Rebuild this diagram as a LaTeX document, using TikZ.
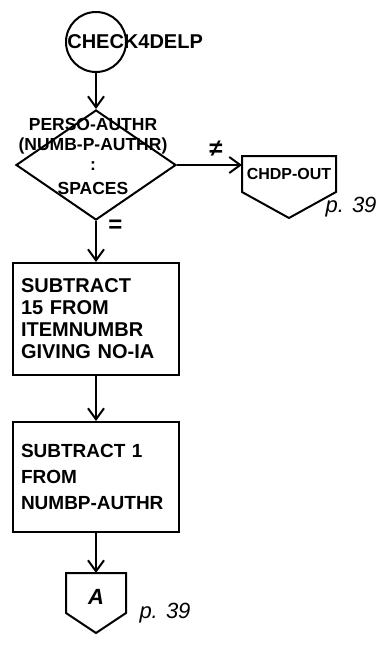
\documentclass[tikz,border=0pt]{standalone}
\usepackage{fontspec}
\setmainfont{Liberation Sans}
\usetikzlibrary{positioning, arrows.meta, shapes.geometric}

\begin{document}
\begin{tikzpicture}[
  x=1pt, y=-1pt,
  line width=2pt,
  handtxt/.style={font=\bfseries\fontsize{20}{22}\selectfont},
  smalltxt/.style={font=\bfseries\fontsize{17.5}{20}\selectfont},
  procbox/.style={draw, rectangle, minimum width=166pt, minimum height=112pt,
    text width=150pt, align=left, inner sep=8pt, handtxt},
  decision/.style={draw, diamond, minimum width=160pt, minimum height=110pt, inner sep=0pt},
  flow/.style={-{Straight Barb[length=11pt,width=16pt]}, line width=2pt},
  pagelbl/.style={font=\itshape\fontsize{22}{24}\selectfont},
  relsign/.style={font=\bfseries\fontsize{24}{26}\selectfont}
]
\useasboundingbox (0,0) rectangle (376,651);

% entry point
\node[circle, draw, minimum size=60pt, inner sep=0pt] (start) at (96,42) {};
\node[handtxt, anchor=west] (startlbl) at (63,42) {CHECK4DELP};

% the test on the number of authors
\node[decision] (test) at (96,165) {};
\node[smalltxt, align=center] (testlbl) at (93,156)
  {PERSO-AUTHR\\(NUMB-P-AUTHR)\\:\\[4pt]SPACES};
\draw[flow] (start) -- (test.north);

% off-page exit
\coordinate (outL) at (242,165);
\draw (242,156) -- (336,156) -- (336,192) -- (289,218) -- (242,192) -- cycle;
\node[smalltxt, font=\bfseries\fontsize{16}{20}\selectfont] (outlbl) at (289,174) {CHDP-OUT};
\node[pagelbl] (outpg) at (351,207) {p. 39};
\draw[flow] (test.east) -- (outL) node[pos=0.6, above=4pt, relsign] {≠};

% the two subtractions
\node[procbox] (sub15) at (96,319) {SUBTRACT\\15 FROM\\ITEMNUMBR\\GIVING NO-IA};
\node[procbox, minimum height=110pt, font=\bfseries\fontsize{19}{26}\selectfont] (sub1) at (96,477)
  {SUBTRACT 1\\FROM\\NUMBP-AUTHR};
\draw[flow] (test.south) -- (sub15.north) node[pos=0.12, right=8pt, relsign] {=};
\draw[flow] (sub15) -- (sub1);

% on-page connector A
\coordinate (conA) at (96,573);
\draw (66,573) -- (126,573) -- (126,613) -- (96,633) -- (66,613) -- cycle;
\node[handtxt, font=\itshape\bfseries\fontsize{22}{24}\selectfont] (albl) at (96,597) {A};
\node[pagelbl] (apg) at (165,613) {p. 39};
\draw[flow] (sub1) -- (conA);

\end{tikzpicture}
\end{document}
